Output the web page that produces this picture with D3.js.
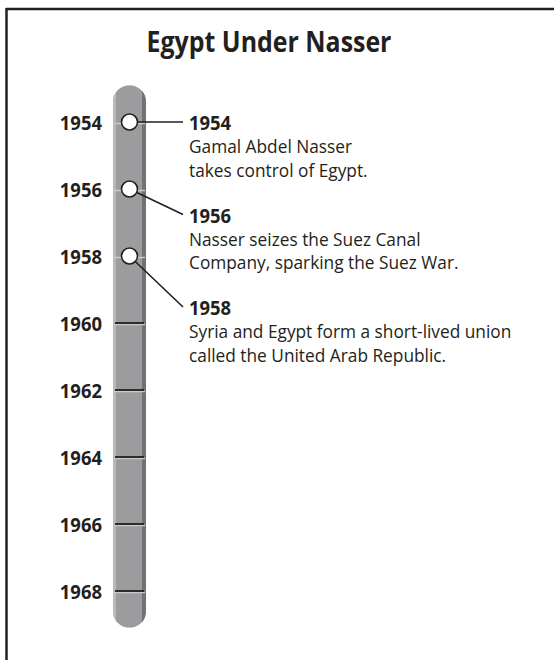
<!DOCTYPE html>
<html>
<head>
<meta charset="utf-8">
<script src="https://cdn.jsdelivr.net/npm/d3@7"></script>
<style>
  html, body { margin: 0; padding: 0; background: #fff; }
  svg text { font-family: "Open Sans", "Noto Sans", sans-serif; fill: #231f20; }
</style>
</head>
<body>
<svg id="chart" width="554" height="660"></svg>
<script>
"use strict";
// timeline data
const title = "Egypt Under Nasser";
const tickYears = [1954, 1956, 1958, 1960, 1962, 1964, 1966, 1968];
const eventYears = [1954, 1956, 1958];
const eventTexts = [
  ["Gamal Abdel Nasser", "takes control of Egypt."],
  ["Nasser seizes the Suez Canal", "Company, sparking the Suez War."],
  ["Syria and Egypt form a short-lived union", "called the United Arab Republic."]
];

const svg = d3.select("#chart");

// Open Sans is a little wider than the original face, so squeeze it a bit
function squeeze(k) {
  return sel => sel.each(function () {
    const w = this.getComputedTextLength();
    d3.select(this).attr("textLength", w * k).attr("lengthAdjust", "spacingAndGlyphs");
  });
}

// frame: only the top and left edges show
svg.append("line").attr("x1", 6).attr("x2", 554).attr("y1", 9).attr("y2", 9)
  .attr("stroke", "#231f20").attr("stroke-width", 2.5);
svg.append("line").attr("x1", 6.5).attr("x2", 6.5).attr("y1", 8).attr("y2", 660)
  .attr("stroke", "#231f20").attr("stroke-width", 2.5);

svg.append("text").attr("x", 269).attr("y", 52)
  .attr("text-anchor", "middle").attr("font-size", 28).attr("font-weight", 700)
  .text(title).call(squeeze(0.89));

const y = d3.scaleLinear().domain([1954, 1968]).range([122, 591]);
const barX = 113, barW = 33;
const barTop = y(1952.9), barBot = y(1969.1);
const cx = barX + barW / 2;

// the bar itself, rounded at both ends, with a light left and dark right edge
svg.append("clipPath").attr("id", "barClip").append("rect")
  .attr("x", barX).attr("y", barTop).attr("width", barW)
  .attr("height", barBot - barTop).attr("rx", barW / 2);
const bar = svg.append("g").attr("clip-path", "url(#barClip)");
bar.append("rect").attr("x", barX).attr("y", barTop).attr("width", barW)
  .attr("height", barBot - barTop).attr("fill", "#9c9c9e");
bar.append("rect").attr("x", barX).attr("y", barTop).attr("width", 3)
  .attr("height", barBot - barTop).attr("fill", "#b9b9bb");
bar.append("rect").attr("x", barX + barW - 4).attr("y", barTop).attr("width", 4)
  .attr("height", barBot - barTop).attr("fill", "#727274");

// ticks: dark line with a light line under it
const ticks = svg.append("g").selectAll("g").data(tickYears).join("g")
  .attr("transform", d => `translate(0,${y(d)})`);
ticks.append("line").attr("x1", barX + 1).attr("x2", barX + barW - 1)
  .attr("y1", 1.5).attr("y2", 1.5).attr("stroke", "#cacacc").attr("stroke-width", 1.5);
ticks.filter(d => !eventYears.includes(d)).append("line")
  .attr("x1", barX + 2).attr("x2", barX + barW - 2)
  .attr("stroke", "#231f20").attr("stroke-width", 1.8);
ticks.append("text").attr("x", 102).attr("y", 8)
  .attr("text-anchor", "end").attr("font-size", 19).attr("font-weight", 700)
  .text(d => d).call(squeeze(0.97));

// events: leader, label block and circle
const blockGap = 92.5, firstBase = 130, lineH = 23.4;
const textX = 189, leadX = 183;
const ev = svg.append("g").selectAll("g").data(eventYears).join("g");
ev.append("line")
  .attr("x1", cx).attr("y1", d => y(d))
  .attr("x2", leadX).attr("y2", (d, i) => firstBase + i * blockGap - 8)
  .attr("stroke", "#231f20").attr("stroke-width", 1.6);
ev.append("circle").attr("cx", cx).attr("cy", d => y(d)).attr("r", 8)
  .attr("fill", "#fff").attr("stroke", "#231f20").attr("stroke-width", 1.6);
ev.append("text").attr("x", textX).attr("y", (d, i) => firstBase + i * blockGap)
  .attr("font-size", 19).attr("font-weight", 700).text(d => d).call(squeeze(0.97));
ev.each(function (d, i) {
  d3.select(this).selectAll("text.body").data(eventTexts[i]).join("text")
    .attr("class", "body").attr("x", textX)
    .attr("y", (t, j) => firstBase + i * blockGap + (j + 1) * lineH)
    .attr("font-size", 18).text(t => t).call(squeeze(0.96));
});
</script>
</body>
</html>
